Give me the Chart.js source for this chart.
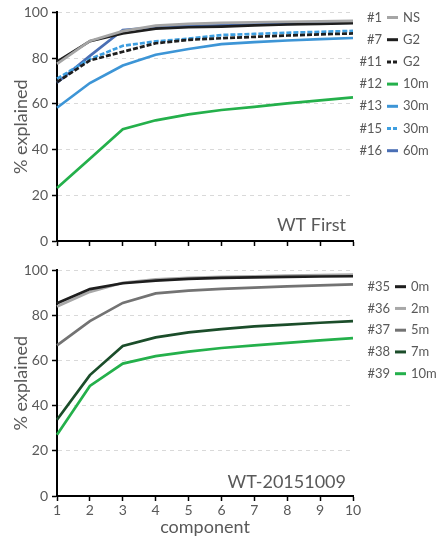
<!DOCTYPE html>
<html>
<head>
<meta charset="utf-8">
<script src="https://cdn.jsdelivr.net/npm/chart.js@4/dist/chart.umd.min.js"></script>
<style>
body { margin: 0; background: #fff; }
#wrap { position: relative; width: 437px; height: 541px; }
canvas { position: absolute; left: 0; }
</style>
</head>
<body>
<div id="wrap">
  <canvas id="grafico-sup" width="437" height="258" style="top:0"></canvas>
  <canvas id="grafico-inf" width="437" height="283" style="top:258px"></canvas>
</div>
<script>
// Datos
const componentes = ['1', '2', '3', '4', '5', '6', '7', '8', '9', '10'];

// Panel superior: WT First
const idsSup = ['#1', '#7', '#11', '#12', '#13', '#15', '#16'];
const nombresSup = ['NS', 'G2', 'G2', '10m', '30m', '30m', '60m'];
const muestra1 = [77.5, 87.5, 91.8, 94.2, 95.0, 95.4, 95.7, 95.9, 96.1, 96.3];
const muestra7 = [78.5, 87.4, 90.8, 92.9, 93.5, 93.8, 94.3, 94.7, 95.0, 95.3];
const muestra11 = [69.5, 79.0, 82.8, 86.5, 88.0, 88.7, 89.3, 89.9, 90.4, 90.8];
const muestra12 = [23.2, 36.0, 48.9, 52.8, 55.4, 57.3, 58.7, 60.2, 61.5, 62.8];
const muestra13 = [58.3, 69.1, 76.8, 81.5, 84.0, 86.1, 87.0, 87.7, 88.3, 88.8];
const muestra15 = [71.0, 79.6, 85.4, 87.3, 88.5, 90.1, 90.6, 91.1, 91.5, 91.9];
const muestra16 = [69.2, 81.0, 92.3, 93.5, 94.0, 94.3, 94.7, 95.0, 95.3, 95.5];

// Panel inferior: WT-20151009
const idsInf = ['#35', '#36', '#37', '#38', '#39'];
const nombresInf = ['0m', '2m', '5m', '7m', '10m'];
const muestra35 = [85.4, 91.7, 94.3, 95.5, 96.2, 96.7, 96.9, 97.1, 97.3, 97.4];
const muestra36 = [84.0, 90.5, 94.5, 96.0, 96.7, 97.1, 97.4, 97.7, 97.9, 98.1];
const muestra37 = [66.8, 77.5, 85.6, 89.8, 91.0, 91.8, 92.4, 92.9, 93.4, 93.8];
const muestra38 = [33.8, 53.6, 66.5, 70.3, 72.5, 74.0, 75.2, 76.0, 76.8, 77.5];
const muestra39 = [27.2, 48.8, 58.7, 62.0, 64.0, 65.6, 66.8, 67.9, 69.0, 70.0];

const ticksY = [0, 20, 40, 60, 80, 100];

Chart.defaults.font.family = 'Lato';
Chart.defaults.color = '#595959';

function serie(nombre, datos, color, guiones) {
    return {
        label: nombre,
        data: datos,
        borderColor: color,
        backgroundColor: color,
        borderWidth: 2.7,
        borderDash: guiones || [],
        pointRadius: 0,
        tension: 0,
        fill: false
    };
}

// Leyenda lateral con "#n — nombre" y titulo del panel
const leyendaLateral = {
    id: 'leyendaLateral',
    afterDraw(chart, args, opts) {
        const ctx = chart.ctx;
        ctx.save();
        ctx.font = '13px Lato';
        ctx.textBaseline = 'middle';
        opts.ids.forEach((id, i) => {
            const ds = chart.data.datasets[i];
            const y = opts.y0 + i * opts.paso;
            ctx.fillStyle = '#595959';
            ctx.textAlign = 'right';
            ctx.fillText(id, opts.xId, y);
            ctx.strokeStyle = ds.borderColor;
            ctx.lineWidth = 3;
            ctx.setLineDash(ds.borderDash.length ? [4, 2] : []);
            ctx.beginPath();
            ctx.moveTo(opts.xId + 5, y);
            ctx.lineTo(opts.xId + 16, y);
            ctx.stroke();
            ctx.setLineDash([]);
            ctx.textAlign = 'left';
            ctx.fillText(ds.label, opts.xId + 21, y);
        });
        ctx.font = '18px Lato';
        ctx.textAlign = 'right';
        ctx.fillStyle = '#595959';
        ctx.fillText(opts.titulo, opts.xTitulo, opts.yTitulo);
        ctx.restore();
    }
};

function opciones(mostrarX, leyenda, padTop) {
    return {
        responsive: false,
        animation: false,
        layout: { padding: { top: padTop, right: 84, left: 0, bottom: 0 } },
        plugins: {
            legend: { display: false },
            tooltip: { enabled: false },
            leyendaLateral: leyenda
        },
        scales: {
            x: {
                type: 'category',
                offset: false,
                grid: {
                    drawOnChartArea: false,
                    drawTicks: true,
                    tickLength: 5,
                    tickColor: '#000',
                    tickWidth: 1.5
                },
                border: { display: true, color: '#000', width: 2 },
                ticks: {
                    display: mostrarX,
                    font: { size: 14 },
                    color: '#595959',
                    padding: 1,
                    maxRotation: 0,
                    autoSkip: false
                },
                title: {
                    display: mostrarX,
                    text: 'component',
                    font: { size: 18 },
                    color: '#595959',
                    padding: { top: 0, bottom: 3 }
                },
                afterFit: s => { s.height = mostrarX ? 45 : 17; }
            },
            y: {
                min: 0,
                max: 100,
                afterBuildTicks: s => { s.ticks = ticksY.map(v => ({ value: v })); },
                grid: {
                    color: '#d9d9d9',
                    lineWidth: 1,
                    drawTicks: true,
                    tickLength: 5,
                    tickColor: '#000',
                    tickWidth: 1.5,
                    tickBorderDash: []
                },
                border: { display: true, color: '#000', width: 2, dash: [4, 4] },
                ticks: {
                    font: { size: 14 },
                    color: '#595959',
                    padding: 4
                },
                title: {
                    display: true,
                    text: '% explained',
                    font: { size: 18 },
                    color: '#595959',
                    padding: { top: 10, bottom: 0 }
                },
                afterFit: s => { s.width = 57; }
            }
        }
    };
}

new Chart(document.getElementById('grafico-sup'), {
    type: 'line',
    data: {
        labels: componentes,
        datasets: [
            serie(nombresSup[0], muestra1, '#a5a5a5'),
            serie(nombresSup[1], muestra7, '#1e1e1e'),
            serie(nombresSup[2], muestra11, '#1e1e1e', [5, 2]),
            serie(nombresSup[3], muestra12, '#24b04b'),
            serie(nombresSup[4], muestra13, '#3d95d6'),
            serie(nombresSup[5], muestra15, '#3f9fe0', [5, 2]),
            serie(nombresSup[6], muestra16, '#4a6fb5')
        ]
    },
    options: opciones(false, {
        ids: idsSup, y0: 17.5, paso: 22.2, xId: 382,
        titulo: 'WT First', xTitulo: 346, yTitulo: 225
    }, 9),
    plugins: [leyendaLateral]
});

new Chart(document.getElementById('grafico-inf'), {
    type: 'line',
    data: {
        labels: componentes,
        datasets: [
            serie(nombresInf[0], muestra35, '#1e1e1e'),
            serie(nombresInf[1], muestra36, '#a8a8a8'),
            serie(nombresInf[2], muestra37, '#737373'),
            serie(nombresInf[3], muestra38, '#1b4d2a'),
            serie(nombresInf[4], muestra39, '#24b04b')
        ]
    },
    options: opciones(true, {
        ids: idsInf, y0: 28.7, paso: 21.75, xId: 390,
        titulo: 'WT-20151009', xTitulo: 346, yTitulo: 224
    }, 8),
    plugins: [leyendaLateral]
});
</script>
</body>
</html>
